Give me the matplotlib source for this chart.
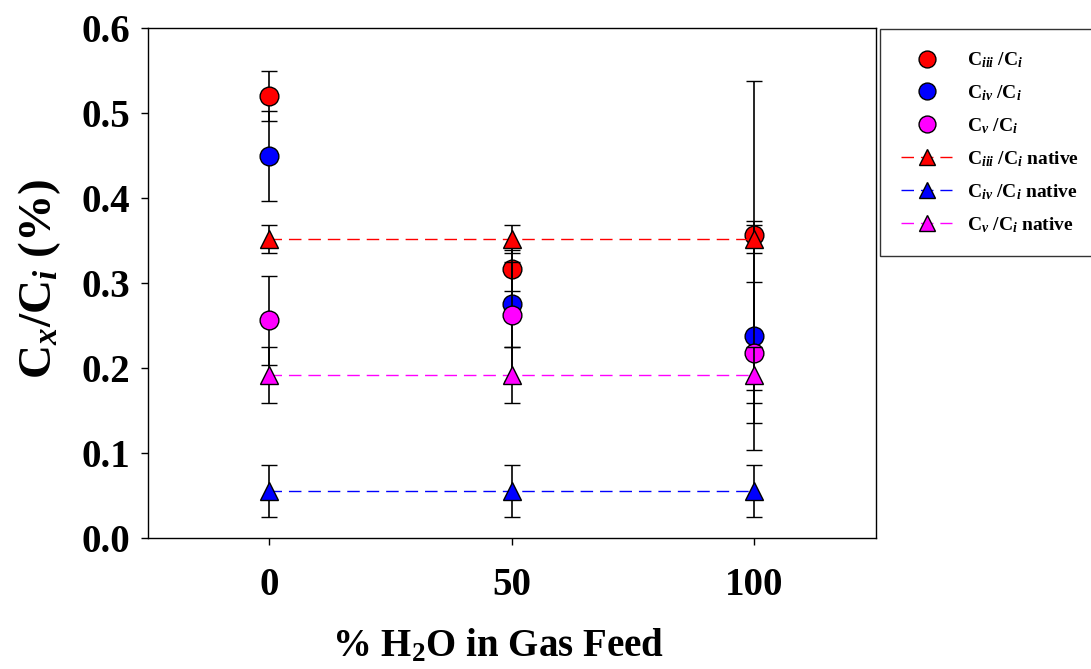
import matplotlib
matplotlib.use("Agg")
import matplotlib.pyplot as plt

plt.rcParams["font.family"] = ["Liberation Serif", "DejaVu Serif"]
plt.rcParams["font.weight"] = "bold"
plt.rcParams["mathtext.fontset"] = "custom"
plt.rcParams["mathtext.rm"] = "Liberation Serif:bold"
plt.rcParams["mathtext.bf"] = "Liberation Serif:bold"
plt.rcParams["mathtext.it"] = "Liberation Serif:italic:bold"

# % water in the gas feed
water_pct = [0, 50, 100]

# measured ratios with standard deviations
c_iii = [0.520, 0.316, 0.356]
c_iii_err = [0.029, 0.026, 0.182]
c_iv = [0.449, 0.275, 0.238]
c_iv_err = [0.053, 0.050, 0.135]
c_v = [0.256, 0.262, 0.218]
c_v_err = [0.052, 0.077, 0.083]

# native (untreated) reference ratios
c_iii_native = [0.352, 0.352, 0.352]
c_iii_native_err = [0.0165, 0.0165, 0.0165]
c_iv_native = [0.055, 0.055, 0.055]
c_iv_native_err = [0.031, 0.031, 0.031]
c_v_native = [0.192, 0.192, 0.192]
c_v_native_err = [0.033, 0.033, 0.033]

y_ticks = [0.0, 0.1, 0.2, 0.3, 0.4, 0.5, 0.6]
x_ticks = [0, 50, 100]

fig = plt.figure(figsize=(10.91, 6.69), dpi=100)
ax = fig.add_axes([0.1357, 0.196, 0.667, 0.762])

series = [
    (c_iii, c_iii_err, "o", "#ff0000", "none", r"C$_{iii}$ /C$_{i}$"),
    (c_iv, c_iv_err, "o", "#0000ff", "none", r"C$_{iv}$ /C$_{i}$"),
    (c_v, c_v_err, "o", "#ff00ff", "none", r"C$_{v}$ /C$_{i}$"),
    (c_iii_native, c_iii_native_err, "^", "#ff0000", "--", r"C$_{iii}$ /C$_{i}$ native"),
    (c_iv_native, c_iv_native_err, "^", "#0000ff", "--", r"C$_{iv}$ /C$_{i}$ native"),
    (c_v_native, c_v_native_err, "^", "#ff00ff", "--", r"C$_{v}$ /C$_{i}$ native"),
]

handles, labels = [], []
for i, (vals, errs, mk, col, ls, lab) in enumerate(series):
    cont = ax.errorbar(water_pct, vals, yerr=errs, fmt=mk, linestyle=ls,
                       color=col, markerfacecolor=col, markeredgecolor="black",
                       markeredgewidth=1.0, markersize=13.5, linewidth=1.0,
                       dashes=(9, 5) if ls == "--" else None,
                       ecolor="black", elinewidth=1.2, capsize=6, capthick=1.2,
                       zorder=3 + i)
    handles.append(cont[0])
    labels.append(lab)

ax.set_xlim(-25, 125)
ax.set_ylim(0, 0.6)
ax.set_xticks(x_ticks)
ax.set_xticklabels([str(v) for v in x_ticks])
ax.set_yticks(y_ticks)
ax.set_yticklabels([f"{v:.1f}" for v in y_ticks])
ax.tick_params(axis="x", direction="out", length=5, width=1, pad=16,
               labelsize=28, top=False)
ax.tick_params(axis="y", direction="out", length=5, width=1, pad=8,
               labelsize=28, right=False)
for sp in ax.spines.values():
    sp.set_linewidth(1.0)
    sp.set_color("black")

ax.set_xlabel(r"% H$_2$O in Gas Feed", fontsize=28, fontweight="bold")
ax.xaxis.set_label_coords(0.481, -0.176)
ax.set_ylabel(r"C$_{x}$/C$_{i}$ (%)", fontsize=34, fontweight="bold")
ax.yaxis.set_label_coords(-0.117, 0.508)

leg = fig.legend(handles=handles, labels=labels, loc="upper left",
                 bbox_to_anchor=(0.8066, 0.9567), bbox_transform=fig.transFigure,
                 fontsize=14, frameon=True, fancybox=False, edgecolor="black",
                 handlelength=2.6, handletextpad=0.75, labelspacing=0.68,
                 borderpad=1.1, markerscale=0.9, borderaxespad=0)
leg.get_frame().set_linewidth(1.0)

fig.savefig("out.png", dpi=100)
